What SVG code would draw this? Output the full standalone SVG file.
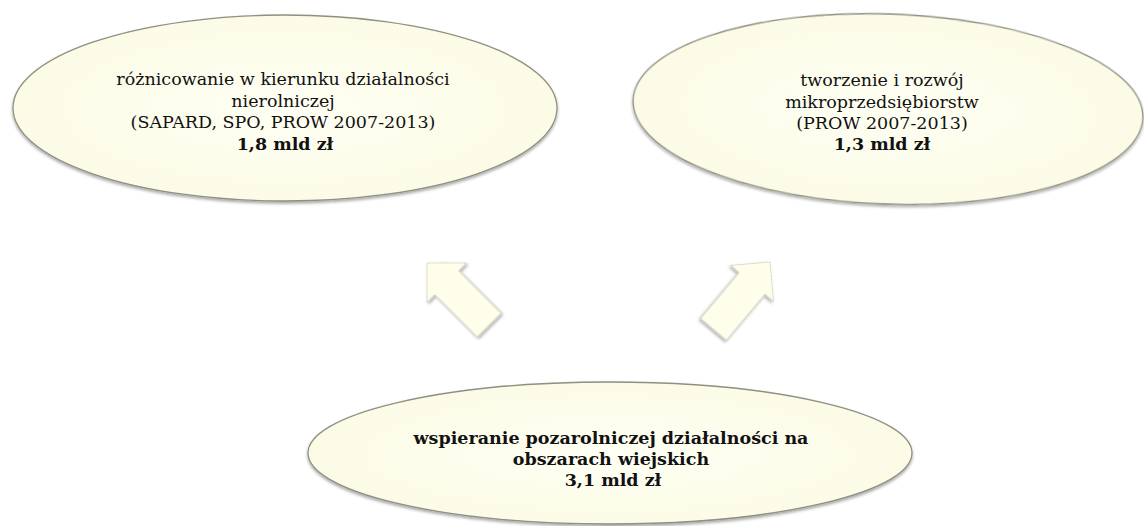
<svg xmlns="http://www.w3.org/2000/svg" width="1144" height="526" viewBox="0 0 1144 526">
<defs>
<filter id="sh" x="-10%" y="-10%" width="120%" height="130%">
<feDropShadow dx="0" dy="2" stdDeviation="1.8" flood-color="#000" flood-opacity="0.35"/>
</filter>
<radialGradient id="cream" cx="50%" cy="50%" r="50%">
<stop offset="0" stop-color="#fffff4"/>
<stop offset="1" stop-color="#fbfbe6"/>
</radialGradient>
<path id="arr" d="M0,0 L28,28 L17,28 L17,88 L-17,88 L-17,28 L-28,28 Z"/>
</defs>
<style>
.node{fill:url(#cream);stroke:#8f8f82;stroke-width:1.3;filter:url(#sh)}
.arrow{fill:#fefeea;stroke:#c4c4b4;stroke-width:0.8;filter:url(#sh)}
text{font-family:"DejaVu Serif","Liberation Serif",serif;font-size:17.5px;fill:#111;text-anchor:middle}
.b{font-weight:bold}
</style>
<rect width="1144" height="526" fill="#fff"/>
<g id="node-left">
<ellipse class="node" cx="285" cy="108" rx="272" ry="93"/>
<text x="283" y="85">różnicowanie w kierunku działalności</text>
<text x="283" y="106.5">nierolniczej</text>
<text x="283" y="128">(SAPARD, SPO, PROW 2007-2013)</text>
<text x="285" y="150" class="b">1,8 mld zł</text>
</g>
<g id="node-right">
<ellipse class="node" cx="888" cy="109" rx="255" ry="95" transform="rotate(2 888 109)"/>
<text x="882" y="86">tworzenie i rozwój</text>
<text x="882" y="107.5">mikroprzedsiębiorstw</text>
<text x="882" y="129">(PROW 2007-2013)</text>
<text x="882" y="150" class="b">1,3 mld zł</text>
</g>
<g id="node-bottom">
<ellipse class="node" cx="610" cy="453" rx="302" ry="71"/>
<text x="611" y="444" class="b">wspieranie pozarolniczej działalności na</text>
<text x="611" y="465" class="b">obszarach wiejskich</text>
<text x="613" y="486" class="b">3,1 mld zł</text>
</g>
<g id="connectors">
<use href="#arr" class="arrow" transform="translate(427,263) rotate(-45)"/>
<use href="#arr" class="arrow" transform="translate(770,262) rotate(40)"/>
</g>
</svg>
